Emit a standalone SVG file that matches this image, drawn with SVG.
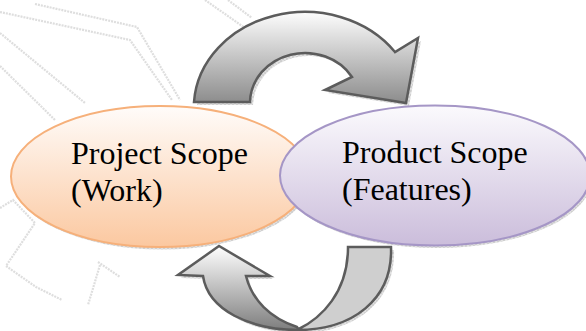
<svg xmlns="http://www.w3.org/2000/svg" width="586" height="331" viewBox="0 0 586 331">
  <defs>
    <linearGradient id="gOrange" x1="0" y1="0" x2="0" y2="1">
      <stop offset="0" stop-color="#FFFCFA"/>
      <stop offset="1" stop-color="#FBC8A0"/>
    </linearGradient>
    <linearGradient id="gPurple" x1="0" y1="0" x2="0" y2="1">
      <stop offset="0" stop-color="#FBFAFD"/>
      <stop offset="1" stop-color="#CBBDDB"/>
    </linearGradient>
    <linearGradient id="gTop" x1="0" y1="0" x2="0" y2="1">
      <stop offset="0" stop-color="#FDFDFD"/>
      <stop offset="1" stop-color="#8C8C8C"/>
    </linearGradient>
    <linearGradient id="gBottom" x1="0" y1="0" x2="0" y2="1">
      <stop offset="0" stop-color="#FFFFFF"/>
      <stop offset="1" stop-color="#7E7E7E"/>
    </linearGradient>
    <pattern id="hatch" width="4" height="4" patternUnits="userSpaceOnUse">
      <rect width="4" height="4" fill="#c9c9c9"/>
      <path d="M0,4 L4,0 M0,0 L4,4" stroke="#9a9a9a" stroke-width="0.7"/>
    </pattern>
  </defs>
  <style>
    .bg { fill: none; stroke: #d6d6d6; stroke-width: 2.2; stroke-dasharray: 2 1; opacity: 0.8; }
    .shadow { fill: url(#hatch); opacity: 0.55; }
    .arrow { stroke: #5c5c5c; stroke-width: 2.5; stroke-linejoin: miter; }
    .label { font-size: 32px; fill: #000; }
  </style>

  <rect width="586" height="331" fill="#ffffff"/>

  <g id="background">
    <polyline class="bg" points="35,4 137,27 180,100"/>
    <polyline class="bg" points="0,12 130,40 172,100"/>
    <polyline class="bg" points="0,33 85,103"/>
    <polyline class="bg" points="0,66 55,120"/>
    <polyline class="bg" points="205,0 245,28"/>
    <polyline class="bg" points="228,0 252,18"/>
    <polyline class="bg" points="0,208 13,200 35,223 6,266 36,287 62,300"/>
    <polyline class="bg" points="98,262 120,277"/>
    <polyline class="bg" points="100,265 88,305"/>
  </g>

  <g id="connectors">
    <g id="arrow-top">
      <path class="shadow" transform="translate(3,3)" d="M194,102 A111,96 0 0 1 395,52 L418,38 L406,103 L325,90 L352,77 A55,50 0 0 0 250,102 Z"/>
      <path class="arrow" fill="url(#gTop)" d="M194,102 A111,96 0 0 1 395,52 L418,38 L406,103 L325,90 L352,77 A55,50 0 0 0 250,102 Z"/>
    </g>
  </g>

  <g id="node-project">
    <ellipse class="shadow" cx="162" cy="179" rx="149" ry="70.5"/>
    <ellipse cx="160" cy="176.5" rx="149" ry="70.5" fill="url(#gOrange)" stroke="#F6B07A" stroke-width="2"/>
    <text class="label" font-family="'Liberation Serif', 'DejaVu Serif', 'Times New Roman', serif" x="71" y="164">Project Scope</text>
    <text class="label" font-family="'Liberation Serif', 'DejaVu Serif', 'Times New Roman', serif" x="71" y="201">(Work)</text>
  </g>

  <g id="node-product">
    <ellipse class="shadow" cx="437" cy="178" rx="155" ry="70"/>
    <ellipse cx="435" cy="175.5" rx="155" ry="70" fill="url(#gPurple)" stroke="#A596C6" stroke-width="2"/>
    <text class="label" font-family="'Liberation Serif', 'DejaVu Serif', 'Times New Roman', serif" x="342" y="163">Product Scope</text>
    <text class="label" font-family="'Liberation Serif', 'DejaVu Serif', 'Times New Roman', serif" x="342" y="200">(Features)</text>
  </g>

  <g id="connectors-bottom">
    <g id="arrow-bottom">
      <path class="shadow" transform="translate(3,3)" d="M348,247 L391,247 C393,300 350,330 297,330 C250,330 208,310 203,276 L178,275 L219,246 L270,276 L246,276 C250,298 270,318 297,326 C328,318 348,290 348,247 Z"/>
      <path class="arrow" fill="#CFCFCF" d="M348,247 L391,247 C393,300 352,330 297,330 C322,318 348,292 348,247 Z"/>
      <path class="arrow" fill="url(#gBottom)" d="M203,276 L178,275 L219,246 L270,276 L246,276 C252,300 270,318 297,327 L299,330 C250,330 208,310 203,276 Z"/>
    </g>
  </g>
</svg>
